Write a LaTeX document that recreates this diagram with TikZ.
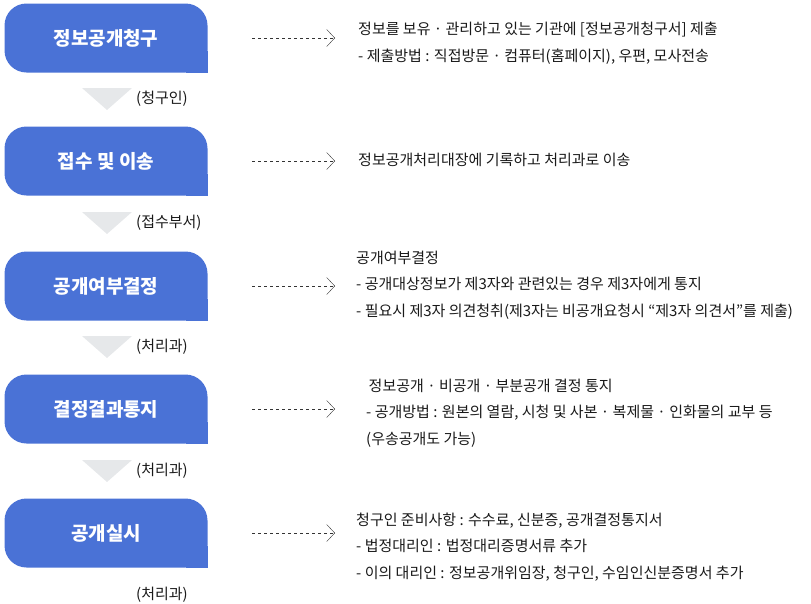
\documentclass[tikz,border=0pt]{standalone}
\usepackage{fontspec}
\setmainfont{Noto Sans CJK KR}
\usetikzlibrary{arrows.meta, positioning}
\definecolor{stepBlue}{HTML}{4A72D6}
\definecolor{triGray}{HTML}{E6E8EA}
\tikzset{
stepBox/.style={fill=stepBlue, minimum width=203pt, minimum height=69pt, inner sep=0pt,
    rounded corners=22pt},
stepText/.style={text=white, font=\fontsize{19}{22}\selectfont\bfseries},
info/.style={anchor=west, align=left, font=\fontsize{15}{26.5}\selectfont, text=black!90, inner sep=0pt},
link/.style={dashed, black!80, -{Straight Barb[length=8pt, width=17pt]}},
who/.style={anchor=west, font=\fontsize{15}{17}\selectfont, text=black!90, inner sep=0pt}
}
\begin{document}
\begin{tikzpicture}[x=1pt, y=-1pt]
	\useasboundingbox (0,0) rectangle (811,603);

	% steps
	\foreach \name/\txt/\yy in {S1/정보공개청구/38, S2/접수 및 이송/161, S3/공개여부결정/286, S4/결정결과통지/409, S5/공개실시/533}{
		\node[stepBox] (\name) at (106,\yy) {};
		\fill[stepBlue] (\name.south east) rectangle ++(-22,-22);
		\node[stepText] at (\name) {\txt};
		\coordinate (\name-a) at (252,\yy);
		\coordinate (\name-b) at (335,\yy);
		\draw[link] (\name-a) -- (\name-b);
	}

	% down markers
	\foreach \yy/\txt in {88/(청구인), 212/(접수부서), 336/(처리과), 460/(처리과)}{
		\fill[triGray] (82,\yy) -- (132,\yy) -- (107,\yy+22) -- cycle;
		\node[who] at (136,\yy+11) {\txt};
	}
	\node[who] (last) at (136,595) {(처리과)};

	% descriptions
	\node[info] (T1) at (358,43) {정보를 보유 · 관리하고 있는 기관에 [정보공개청구서] 제출\\- 제출방법 : 직접방문 · 컴퓨터(홈페이지), 우편, 모사전송};
	\node[info] (T2) at (358,160) {정보공개처리대장에 기록하고 처리과로 이송};
	\node[info] (T3) at (356,285) {공개여부결정\\- 공개대상정보가 제3자와 관련있는 경우 제3자에게 통지\\- 필요시 제3자 의견청취(제3자는 비공개요청시 “제3자 의견서”를 제출)};
	\node[info] (T4) at (366,413) {\,정보공개 · 비공개 · 부분공개 결정 통지\\- 공개방법 : 원본의 열람, 시청 및 사본 · 복제물 · 인화물의 교부 등\\(우송공개도 가능)};
	\node[info] (T5) at (356,547) {청구인 준비사항 : 수수료, 신분증, 공개결정통지서\\- 법정대리인 : 법정대리증명서류 추가\\- 이의 대리인 : 정보공개위임장, 청구인, 수임인신분증명서 추가};
\end{tikzpicture}
\end{document}
